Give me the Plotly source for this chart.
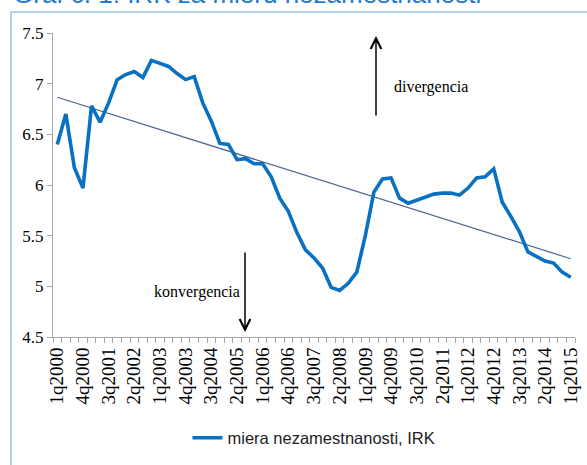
import numpy as np
import plotly.graph_objects as go

quarters = [f"{q}q{y}" for y in range(2000, 2016) for q in range(1, 5)][:61]
values = [6.40, 6.70, 6.17, 5.97, 6.78, 6.62, 6.81, 7.04, 7.09, 7.12,
          7.06, 7.23, 7.20, 7.17, 7.10, 7.04, 7.07, 6.81, 6.63, 6.41,
          6.40, 6.25, 6.26, 6.21, 6.21, 6.08, 5.87, 5.74, 5.53, 5.36,
          5.28, 5.18, 4.99, 4.96, 5.03, 5.14, 5.50, 5.93, 6.06, 6.07,
          5.87, 5.82, 5.85, 5.88, 5.91, 5.92, 5.92, 5.90, 5.97, 6.07,
          6.08, 6.16, 5.83, 5.69, 5.54, 5.34, 5.29, 5.25, 5.23, 5.14,
          5.09]
series_name = "miera nezamestnanosti, IRK"
title_text = "Graf č. 1: IRK za mieru nezamestnanosti"
y_ticks = [4.5, 5, 5.5, 6, 6.5, 7, 7.5]
y_ticklabels = ["4.5", "5", "5.5", "6", "6.5", "7", "7.5"]

idx = np.arange(len(values))
slope, intercept = np.polyfit(idx, values, 1)
trend = slope * idx + intercept

W, H = 587, 465
ML, MR, MT, MB = 53, 12, 33, 128
PW, PH = W - ML - MR, H - MT - MB

def px_x(px):
    return (px - ML) / PW

def px_y(py):
    return (H - MB - py) / PH

fig = go.Figure()
fig.add_trace(go.Scatter(x=idx, y=trend, mode="lines",
                         line=dict(color="#4A6590", width=1.2),
                         showlegend=False, hoverinfo="skip"))
fig.add_trace(go.Scatter(x=idx, y=values, mode="lines", name=series_name,
                         line=dict(color="#0A70C2", width=3.6)))

serif = "Liberation Serif, Times New Roman, serif"
tick_idx = list(range(0, len(quarters), 3))

fig.update_layout(
    width=W, height=H,
    margin=dict(l=ML, r=MR, t=MT, b=MB, autoexpand=False),
    paper_bgcolor="white", plot_bgcolor="white",
    showlegend=True,
    legend=dict(orientation="h", x=px_x(314), xanchor="center",
                y=px_y(438), yanchor="middle",
                font=dict(family="Liberation Sans Narrow, Liberation Sans, Arial", size=16.5, color="#222"),
                bgcolor="rgba(0,0,0,0)"),
    xaxis=dict(range=[-0.5, len(quarters) - 0.5],
               tickmode="array", tickvals=tick_idx,
               ticktext=[quarters[i] for i in tick_idx],
               tickangle=-90, ticks="", showgrid=False, zeroline=False,
               showline=True, linecolor="#A6A6A6", linewidth=1,
               tickfont=dict(family=serif, size=19, color="black"),
               ticklabelstandoff=2, automargin=False,
               minor=dict(tickmode="linear", tick0=-0.5, dtick=1,
                          ticks="outside", ticklen=5, tickcolor="#A6A6A6",
                          showgrid=False)),
    yaxis=dict(range=[4.5, 7.5], tickmode="array", tickvals=y_ticks,
               ticktext=y_ticklabels, ticks="outside", ticklen=5,
               tickcolor="#A6A6A6", showgrid=False, zeroline=False,
               showline=True, linecolor="#A6A6A6", linewidth=1,
               automargin=False,
               tickfont=dict(family=serif, size=17, color="black")),
)

fig.add_shape(type="rect", xref="paper", yref="paper",
              x0=px_x(11), x1=px_x(620), y0=px_y(500), y1=px_y(12),
              line=dict(color="#9DC3E6", width=1.5), fillcolor="rgba(0,0,0,0)",
              layer="below")

fig.add_annotation(text=title_text, xref="paper", yref="paper",
                   x=px_x(11), y=px_y(11), xanchor="left", yanchor="bottom",
                   showarrow=False,
                   font=dict(family="Liberation Sans, Arial", size=26, color="#1F7BD0"))

# arrows
fig.add_annotation(xref="paper", yref="paper", x=px_x(376), y=px_y(36),
                   ax=0, ay=81, text="", showarrow=True, arrowhead=5,
                   arrowsize=1.4, arrowwidth=1.5, arrowcolor="black")
fig.add_annotation(xref="paper", yref="paper", x=px_x(245), y=px_y(332),
                   ax=0, ay=-81, text="", showarrow=True, arrowhead=5,
                   arrowsize=1.4, arrowwidth=1.5, arrowcolor="black")
fig.add_annotation(text="divergencia", xref="paper", yref="paper",
                   x=px_x(430.5), y=px_y(87), xanchor="center", yanchor="middle",
                   showarrow=False,
                   font=dict(family=serif, size=16, color="black"))
fig.add_annotation(text="konvergencia", xref="paper", yref="paper",
                   x=px_x(196.5), y=px_y(292), xanchor="center", yanchor="middle",
                   showarrow=False,
                   font=dict(family=serif, size=16, color="black"))

fig.write_html("out.html",
               config={"displayModeBar": False},
               post_script="document.body.style.margin='0px';"
                           "document.body.style.overflow='hidden';")
